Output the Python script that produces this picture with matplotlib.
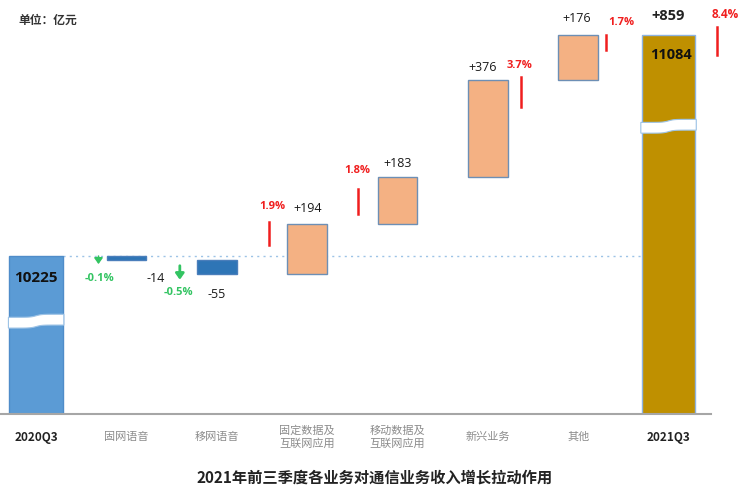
import numpy as np
import matplotlib
matplotlib.use('Agg')
import matplotlib.pyplot as plt
from matplotlib.patches import Polygon

plt.rcParams['font.family'] = ['Noto Sans CJK SC', 'DejaVu Sans']

# data
categories = ['2020Q3', '固网语音', '移网语音', '固定数据及\n互联网应用', '移动数据及\n互联网应用',
              '新兴业务', '其他', '2021Q3']
start_value = 10225
end_value = 11084
total_change = 859
deltas = [-14, -55, 194, 183, 376, 176]
pct_labels = ['-0.1%', '-0.5%', '1.9%', '1.8%', '3.7%', '1.7%']
total_pct = '8.4%'

# layout / styles
c_start = '#5B9BD5'
c_end = '#BF9000'
c_neg = '#2E75B6'
c_pos = '#F4B183'
c_edge = '#6D8FB5'
c_red = '#F01E1E'
c_green = '#33C462'
num_font = ['Open Sans', 'DejaVu Sans']
base = 9611
wide = 0.59
narrow = 0.44

fig = plt.figure(figsize=(7.5, 5.03), dpi=100)
ax = fig.add_axes([0.0, 89 / 503, 711 / 750, 414 / 503])
ax.set_xlim(-0.4, 7.47)
ax.set_ylim(base, base + 1610)

n = len(categories)
x = np.arange(n)

# start / end bars
ax.bar(x[0], start_value - base, bottom=base, width=wide, color=c_start,
       edgecolor='#4F8CC9', linewidth=1, zorder=2)
ax.bar(x[-1], end_value - base, bottom=base, width=wide, color=c_end,
       edgecolor='#8DB3E2', linewidth=1, zorder=2)

# waterfall bars
level = start_value
tops = []
for i, d in enumerate(deltas):
    lo = min(level, level + d)
    hi = max(level, level + d)
    col = c_pos if d > 0 else c_neg
    ec = c_edge if d > 0 else '#4A7EBB'
    ax.bar(x[i + 1], hi - lo, bottom=lo, width=narrow, color=col,
           edgecolor=ec, linewidth=1, zorder=2)
    tops.append(hi)
    level += d

# dotted reference line at start level
ax.plot([x[0] + wide / 2, x[-1] - wide / 2], [start_value, start_value],
        linestyle=(0, (1.5, 3)), color='#9DC3E6', linewidth=1, zorder=1)


# break marks on the big bars
def break_mark(xc, yc, w, h):
    t = np.linspace(0, 1, 60)
    xs = xc - w / 2 + t * w
    wave = 0.14 * h * np.tanh((t - 0.5) * 10)
    top = yc + h / 2 + wave
    bot = yc - h / 2 + wave
    pts = np.vstack([np.column_stack([xs, top]), np.column_stack([xs[::-1], bot[::-1]])])
    ax.add_patch(Polygon(pts, closed=True, facecolor='white', edgecolor='#9DC3E6',
                         linewidth=0.8, zorder=3))


break_mark(x[0], 9972, wide * 1.04, 42)
break_mark(x[-1], 10730, wide * 1.04, 42)

# value labels (offsets in pixels, up is positive)
val_off = [(29, -22), (0, -35), (1, 15), (0, 13), (-5, 13), (-1, 16)]
for i, d in enumerate(deltas):
    lab = ('+%d' % d) if d > 0 else ('%d' % d)
    ax.annotate(lab, (x[i + 1], tops[i]), xytext=val_off[i], textcoords='offset pixels',
                ha='center', va='center', fontsize=9, color='#1A1A1A',
                family=num_font, zorder=4)

ax.annotate(str(start_value), (x[0], start_value), xytext=(0, -22), textcoords='offset pixels',
            ha='center', va='center', fontsize=11, fontweight='bold', color='#111111',
            family=num_font, zorder=4)
ax.annotate(str(end_value), (x[-1], end_value), xytext=(2, -20), textcoords='offset pixels',
            ha='center', va='center', fontsize=10.5, fontweight='bold', color='#111111',
            family=num_font, zorder=4)
ax.annotate('+%d' % total_change, (x[-1], end_value), xytext=(0, 19), textcoords='offset pixels',
            ha='center', va='center', fontsize=10.5, fontweight='bold', color='#222222',
            family=num_font, zorder=4)

# percentage labels with red bars / green arrows
pct_text_off = [(-27, -22), (-38, -33), (-35, 17), (-40, 6), (32, 15), (43, 12)]
pct_line_off = [(-28, 0, -8), (-37, -6, -20), (-38, 2, -21), (-40, -12, -37), (33, 3, -27), (28, 0, -15)]
trans = ax.transData
inv = trans.inverted()
for i, d in enumerate(deltas):
    anchor = (x[i + 1], tops[i])
    col = c_red if d > 0 else c_green
    ax.annotate(pct_labels[i], anchor, xytext=pct_text_off[i], textcoords='offset pixels',
                ha='center', va='center', fontsize=8, fontweight='bold', color=col,
                family=num_font, zorder=4)
    dx, y0, y1 = pct_line_off[i]
    px, py = trans.transform(anchor)
    p0 = inv.transform((px + dx, py + y0))
    p1 = inv.transform((px + dx, py + y1))
    if d > 0:
        ax.plot([p0[0], p1[0]], [p0[1], p1[1]], color=c_red, lw=1.8, zorder=4)
    else:
        ax.annotate('', xy=p1, xytext=p0,
                    arrowprops=dict(arrowstyle='-|>,head_width=0.25,head_length=0.35',
                                    color=c_green, lw=2 if i else 1.2,
                                    shrinkA=0, shrinkB=0), zorder=4)

# total red line + label
px, py = trans.transform((x[-1], end_value))
q0 = inv.transform((px + 48, py + 8))
q1 = inv.transform((px + 48, py - 20))
ax.plot([q0[0], q1[0]], [q0[1], q1[1]], color=c_red, lw=1.8, zorder=4, clip_on=False)
ax.annotate(total_pct, (x[-1], end_value), xytext=(57, 21), textcoords='offset pixels',
            ha='center', va='center', fontsize=8.5, fontweight='bold', color=c_red,
            family=num_font, zorder=4, annotation_clip=False)

# axes styling
for s in ['top', 'right', 'left']:
    ax.spines[s].set_visible(False)
ax.spines['bottom'].set_color('#A6A6A6')
ax.spines['bottom'].set_linewidth(1.5)
ax.set_yticks([])
ax.set_xticks(x)
ax.set_xticklabels([])
ax.tick_params(axis='x', length=0)

for i, c in enumerate(categories):
    if i == 0 or i == n - 1:
        ax.annotate(c, (x[i], base), xytext=(0, -23), textcoords='offset pixels',
                    ha='center', va='center', fontsize=8.5, fontweight='bold', color='#222222')
    else:
        ax.annotate(c, (x[i], base), xytext=(0, -23), textcoords='offset pixels',
                    ha='center', va='center', fontsize=8, color='#8C8C8C', linespacing=1.3)

fig.text(18 / 750, 1 - 20 / 503, '单位：亿元', fontsize=8.5, fontweight='bold',
         color='#333333', ha='left', va='center')
fig.text(375 / 750, 1 - 478 / 503, '2021年前三季度各业务对通信业务收入增长拉动作用',
         fontsize=11, fontweight='bold', color='#222222', ha='center', va='center')

fig.savefig('out.png', dpi=100)
